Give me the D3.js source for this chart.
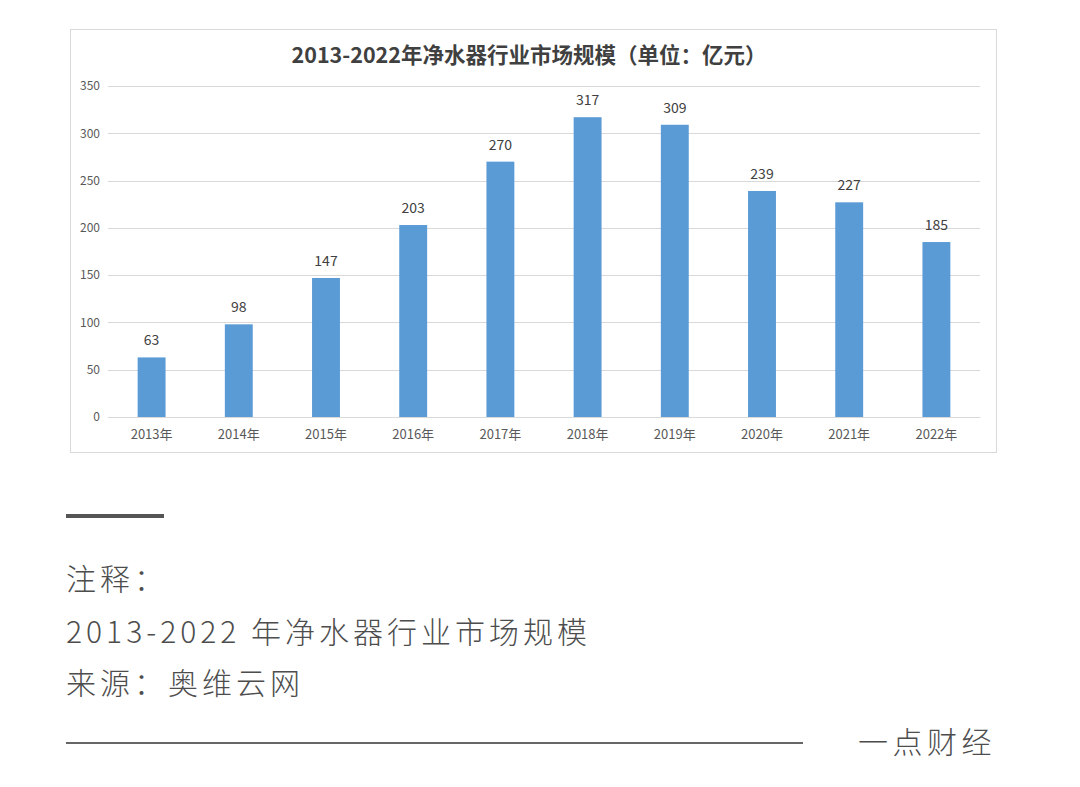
<!DOCTYPE html>
<html><head><meta charset="utf-8">
<script src="https://cdn.jsdelivr.net/npm/d3@7"></script>
<style>body{margin:0;background:#fff;} svg{display:block;}</style>
</head><body>
<svg id="c" width="1080" height="787"></svg>
<script>
const categories = ["2013年","2014年","2015年","2016年","2017年","2018年","2019年","2020年","2021年","2022年"];
const values = [63,98,147,203,270,317,309,239,227,185];
const yTicks = [0,50,100,150,200,250,300,350];
const title = "2013-2022年净水器行业市场规模（单位：亿元）";
const noteLines = ["注释：","2013-2022 年净水器行业市场规模","来源：奥维云网"];
const brand = "一点财经";

const svg = d3.select("#c");
const font = "'Noto Sans CJK SC','Noto Sans',sans-serif";

svg.append("rect").attr("x",70.5).attr("y",29.5).attr("width",926).attr("height",423)
  .attr("fill","#fff").attr("stroke","#d9d9d9");

svg.append("text").attr("x",529).attr("y",63).attr("text-anchor","middle")
  .attr("font-family",font).attr("font-weight","bold").attr("font-size",21.5).attr("fill","#404040").text(title);

const x = d3.scaleBand().domain(categories).range([108,980]).paddingInner(0.68).paddingOuter(0.34);
const y = d3.scaleLinear().domain([0,350]).range([417,86]);

const g = svg.append("g");
g.selectAll("line.grid").data(yTicks).join("line")
  .attr("x1",108).attr("x2",980).attr("y1",d=>Math.round(y(d))+0.5).attr("y2",d=>Math.round(y(d))+0.5)
  .attr("stroke","#d9d9d9").attr("stroke-width",1);

const yAxis = d3.axisLeft(y).tickValues(yTicks).tickSize(0).tickPadding(8);
const ya = svg.append("g").attr("transform","translate(108,0)").call(yAxis);
ya.select(".domain").remove();
ya.selectAll("text").attr("font-family",font).attr("font-size",12).attr("fill","#595959");

g.selectAll("rect.bar").data(values).join("rect")
  .attr("x",(d,i)=>x(categories[i])).attr("width",x.bandwidth())
  .attr("y",d=>y(d)).attr("height",d=>y(0)-y(d)).attr("fill","#5b9bd5");

g.selectAll("text.val").data(values).join("text")
  .attr("x",(d,i)=>x(categories[i])+x.bandwidth()/2).attr("y",d=>y(d)-12)
  .attr("text-anchor","middle").attr("font-family",font).attr("font-size",14).attr("fill","#404040").text(d=>d);

const xAxis = d3.axisBottom(x).tickSize(0).tickPadding(13);
const xa = svg.append("g").attr("transform","translate(0,417)").call(xAxis);
xa.select(".domain").attr("stroke","#d9d9d9");
xa.selectAll("text").attr("font-family",font).attr("font-size",13).attr("fill","#595959");

// footer
svg.append("rect").attr("x",66).attr("y",514).attr("width",98).attr("height",4).attr("fill","#555");
const noteY = [590,643,694];
svg.selectAll("text.note").data(noteLines).join("text")
  .attr("x",66).attr("y",(d,i)=>noteY[i]).attr("font-family",font).attr("font-size",30)
  .attr("font-weight",300)
  .attr("letter-spacing",4).attr("fill","#4d4d4d").text(d=>d);
svg.append("rect").attr("x",66).attr("y",742).attr("width",737).attr("height",2).attr("fill","#666");
svg.append("text").attr("x",858).attr("y",753).attr("font-family",font).attr("font-size",30)
  .attr("font-weight",300)
  .attr("letter-spacing",4.5).attr("fill","#4d4d4d").text(brand);
</script>
</body></html>
